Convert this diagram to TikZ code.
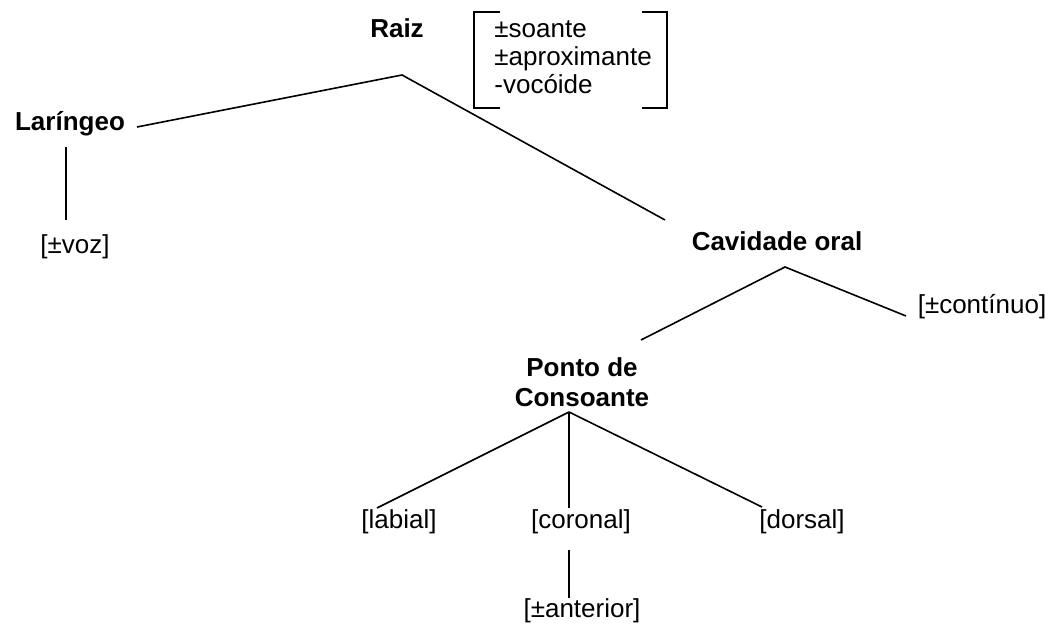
\documentclass[tikz,border=0pt]{standalone}
\usepackage{fontspec}
\setmainfont{Liberation Sans}
\usepackage{tikz}
\usetikzlibrary{positioning,calc}

\begin{document}
\begin{tikzpicture}[x=0.5pt,y=-0.5pt,
  feat/.style={font=\fontsize{13}{14}\selectfont, inner sep=0pt, anchor=base},
  head/.style={feat, font=\fontsize{13}{14}\selectfont\bfseries},
  branch/.style={line width=0.8pt}]
\useasboundingbox (0,0) rectangle (1055,625);

% Raiz and its features
\node[head] (raiz) at (397,38) {Raiz};
\node[feat,anchor=base west] (soante) at (494,38) {±soante};
\node[feat,anchor=base west] (aprox) at (494,66) {±aproximante};
\node[feat,anchor=base west] (vocoide) at (494,94) {-vocóide};
\draw[branch] (500,12) -- (474,12) -- (474,108) -- (500,108);
\draw[branch] (642,12) -- (667,12) -- (667,108) -- (642,108);

% Laringeo
\node[head] (laringeo) at (70,131) {Laríngeo};
\node[feat] (voz) at (75,254) {[±voz]};

% Cavidade oral
\node[head] (cavidade) at (777,251) {Cavidade oral};
\node[feat] (continuo) at (982,314) {[±contínuo]};

% Ponto de Consoante
\node[head] (ponto) at (582,377) {Ponto de};
\node[head] (consoante) at (582,407) {Consoante};
\node[feat] (labial) at (399,529) {[labial]};
\node[feat] (coronal) at (581,529) {[coronal]};
\node[feat] (dorsal) at (802,529) {[dorsal]};
\node[feat] (anterior) at (582,617) {[±anterior]};

% branch points
\coordinate (raizJ) at (402,75);
\coordinate (laringeoR) at (137,127);
\coordinate (laringeoB) at (66,147);
\coordinate (vozT) at (66,220);
\coordinate (cavidadeT) at (665,220);
\coordinate (cavidadeJ) at (785,267);
\coordinate (pontoT) at (641,340);
\coordinate (continuoL) at (906,316);
\coordinate (pontoJ) at (569,412);
\coordinate (labialT) at (377,508);
\coordinate (coronalT) at (569,508);
\coordinate (dorsalT) at (762,507);
\coordinate (coronalB) at (569,550);
\coordinate (anteriorT) at (569,598);

\draw[branch] (laringeoR) -- (raizJ) -- (cavidadeT);
\draw[branch] (laringeoB) -- (vozT);
\draw[branch] (pontoT) -- (cavidadeJ) -- (continuoL);
\draw[branch] (pontoJ) -- (labialT);
\draw[branch] (pontoJ) -- (coronalT);
\draw[branch] (pontoJ) -- (dorsalT);
\draw[branch] (coronalB) -- (anteriorT);
\end{tikzpicture}
\end{document}
